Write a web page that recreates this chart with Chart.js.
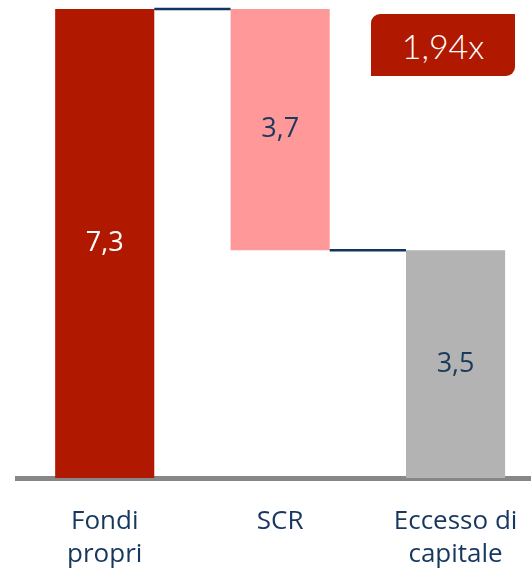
<!DOCTYPE html>
<html>
<head>
<meta charset="utf-8">
<script src="https://cdn.jsdelivr.net/npm/chart.js@4/dist/chart.umd.min.js"></script>
<style>
  html, body { margin: 0; padding: 0; background: #fff; overflow: hidden; }
  .wrap { position: relative; width: 531px; height: 572px; }
  .badge {
    position: absolute; left: 371px; top: 14px; width: 144px; height: 62px;
    background: #b01900; color: #fff;
    border-radius: 9px 0 9px 0;
    font: 300 34px Lato, "Open Sans", sans-serif;
    display: flex; align-items: center; justify-content: center;
  }
</style>
</head>
<body>
<div class="wrap">
  <canvas id="waterfall" width="531" height="572"></canvas>
  <div class="badge" id="ratio"></div>
</div>
<script>
const categories = [['Fondi', 'propri'], 'SCR', ['Eccesso di', 'capitale']];
const fondiPropri = 7.25;
const scr = 3.73;
const eccesso = 3.52;
const ratio = '1,94x';

const colors = ['#b01900', '#ff9999', '#b3b3b3'];
const labelColors = ['#ffffff', '#1b3a5e', '#1b3a5e'];
const navy = '#12355f';

document.getElementById('ratio').textContent = ratio;

const fmt = v => v.toFixed(1).replace('.', ',');

// barre fluttuanti: [inizio, fine]
const ranges = [[0, fondiPropri], [eccesso, fondiPropri], [0, eccesso]];
const shown = [fondiPropri, scr, eccesso];

/* valori e linee di raccordo */
const waterfallPlugin = {
  id: 'waterfall',
  afterDatasetsDraw(chart) {
    const { ctx, scales: { y } } = chart;
    const bars = chart.getDatasetMeta(0).data;

    ctx.save();
    ctx.strokeStyle = navy;
    ctx.lineWidth = 2.5;
    const links = [[0, 1, ranges[0][1]], [1, 2, ranges[1][0]]];
    links.forEach(([a, b, v]) => {
      const py = y.getPixelForValue(v);
      ctx.beginPath();
      ctx.moveTo(bars[a].x + bars[a].width / 2, py);
      ctx.lineTo(bars[b].x - bars[b].width / 2, py);
      ctx.stroke();
    });

    ctx.font = '27px "Open Sans", sans-serif';
    ctx.textAlign = 'center';
    ctx.textBaseline = 'middle';
    bars.forEach((bar, i) => {
      const mid = y.getPixelForValue((ranges[i][0] + ranges[i][1]) / 2);
      ctx.fillStyle = labelColors[i];
      ctx.fillText(fmt(shown[i]), bar.x, mid);
    });
    ctx.restore();
  }
};

new Chart(document.getElementById('waterfall'), {
  type: 'bar',
  data: {
    datasets: [{
      data: ranges.map((r, i) => ({ x: i, y: r })),
      backgroundColor: colors,
      borderWidth: 0,
      barPercentage: 1,
      categoryPercentage: 0.565
    }]
  },
  options: {
    responsive: false,
    animation: false,
    layout: { padding: { left: 17, right: 0, top: 0, bottom: 0 } },
    plugins: { legend: { display: false }, tooltip: { enabled: false } },
    scales: {
      x: {
        type: 'linear',
        offset: false,
        min: -0.5,
        max: 2.43,
        afterBuildTicks: s => { s.ticks = [{ value: 0 }, { value: 1 }, { value: 2 }]; },
        afterFit: s => { s.height = 94; s.paddingLeft = 0; s.paddingRight = 0; },
        grid: { display: false },
        border: { display: true, color: '#878787', width: 5 },
        ticks: {
          padding: 19,
          color: '#17375e',
          font: { family: '"Open Sans", sans-serif', size: 26, lineHeight: 1.28 },
          maxRotation: 0,
          autoSkip: false,
          callback: v => categories[v] ?? ''
        }
      },
      y: { display: false, min: 0, max: 7.39 }
    }
  },
  plugins: [waterfallPlugin]
});
</script>
</body>
</html>
